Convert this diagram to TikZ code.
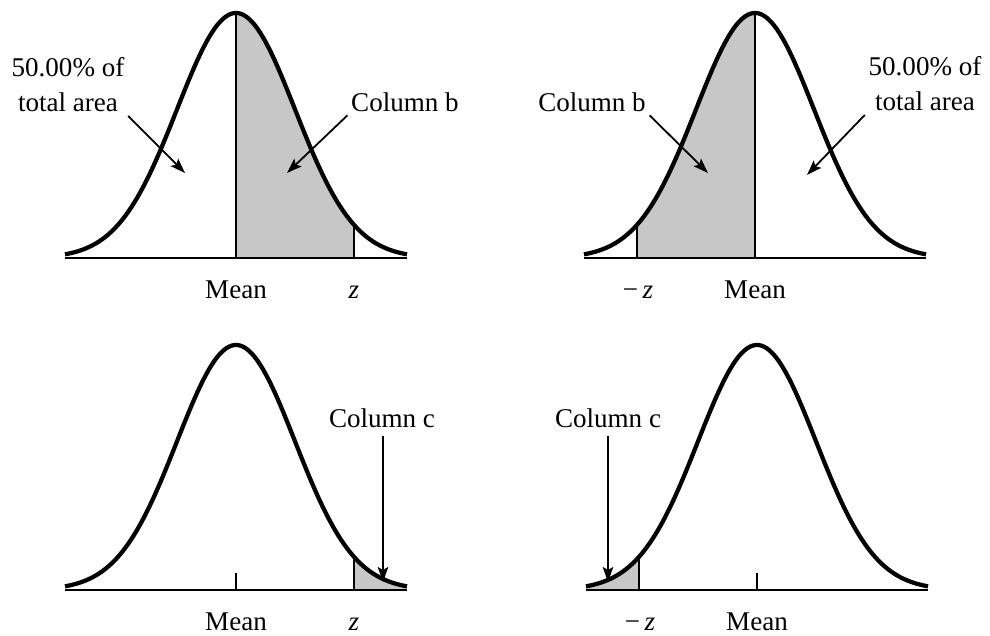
\documentclass[tikz,border=0pt]{standalone}
\usepackage{fontspec}
\setmainfont{Liberation Serif}
\usetikzlibrary{arrows.meta}

\begin{document}
\begin{tikzpicture}[
  x=0.2mm,y=0.2mm,
  declare function={bell(\t)=245*exp(-0.5*(\t/59)*(\t/59));},
  curve/.style={line width=0.85mm,line join=round},
  thin/.style={line width=0.34mm},
  shade/.style={fill=black!22},
  lab/.style={font=\fontsize{15.4pt}{19.9pt}\selectfont,inner sep=2pt,align=center},
  arrow/.style={-{Stealth[length=3mm,width=2.1mm,inset=0.6mm]},line width=0.36mm}
]
\useasboundingbox (0,0) rectangle (990,636);

% upper left: mean to z
\begin{scope}[shift={(236,378)}]
  \fill[shade] (0,0) -- plot[domain=0:118,samples=40] (\x,{bell(\x)}) -- (118,0) -- cycle;
  \draw[thin] (-171,0) -- (171,0);
  \draw[thin] (0,0) -- (0,{bell(0)});
  \draw[thin] (118,0) -- (118,{bell(118)});
  \draw[curve] plot[domain=-171:171,samples=120] (\x,{bell(\x)});
  \node[lab] (areaUL) at (-168,173) {50.00\% of\\total area};
  \node[lab] (colbUL) at (169,156) {Column b};
  \coordinate (tipUL1) at (-51,85);
  \coordinate (tipUL2) at (51,85);
  \draw[arrow] (areaUL.south east) -- (tipUL1);
  \draw[arrow] (colbUL.south west) -- (tipUL2);
  \node[lab,anchor=base] (meanUL) at (0,-41) {Mean};
  \node[lab,anchor=base] (zUL) at (118,-41) {\textit{z}};
\end{scope}

% upper right: -z to mean
\begin{scope}[shift={(755,378)}]
  \fill[shade] (-118,0) -- plot[domain=-118:0,samples=40] (\x,{bell(\x)}) -- (0,0) -- cycle;
  \draw[thin] (-171,0) -- (171,0);
  \draw[thin] (0,0) -- (0,{bell(0)});
  \draw[thin] (-118,0) -- (-118,{bell(-118)});
  \draw[curve] plot[domain=-171:171,samples=120] (\x,{bell(\x)});
  \node[lab] (colbUR) at (-163,156) {Column b};
  \node[lab] (areaUR) at (170,174) {50.00\% of\\total area};
  \coordinate (tipUR1) at (-47,85);
  \coordinate (tipUR2) at (52,83);
  \draw[arrow] (colbUR.south east) -- (tipUR1);
  \draw[arrow] (areaUR.south west) -- (tipUR2);
  \node[lab,anchor=base] (zUR) at (-117,-41) {−\,\textit{z}};
  \node[lab,anchor=base] (meanUR) at (0,-41) {Mean};
\end{scope}

% lower left: beyond z
\begin{scope}[shift={(236,46)}]
  \fill[shade] (118,0) -- plot[domain=118:171,samples=30] (\x,{bell(\x)}) -- (171,0) -- cycle;
  \draw[thin] (-171,0) -- (171,0);
  \draw[thin] (0,0) -- (0,17);
  \draw[thin] (118,0) -- (118,{bell(118)});
  \draw[curve] plot[domain=-171:171,samples=120] (\x,{bell(\x)});
  \node[lab] (colcLL) at (146,172) {Column c};
  \coordinate (tipLL) at (147,8);
  \draw[arrow] (colcLL.south) ++(1,-5) -- (tipLL);
  \node[lab,anchor=base] (meanLL) at (0,-41) {Mean};
  \node[lab,anchor=base] (zLL) at (118,-41) {\textit{z}};
\end{scope}

% lower right: beyond -z
\begin{scope}[shift={(757,46)}]
  \fill[shade] (-171,0) -- plot[domain=-171:-118,samples=30] (\x,{bell(\x)}) -- (-118,0) -- cycle;
  \draw[thin] (-171,0) -- (171,0);
  \draw[thin] (0,0) -- (0,17);
  \draw[thin] (-118,0) -- (-118,{bell(-118)});
  \draw[curve] plot[domain=-171:171,samples=120] (\x,{bell(\x)});
  \node[lab] (colcLR) at (-149,172) {Column c};
  \coordinate (tipLR) at (-149,8);
  \draw[arrow] (colcLR.south) ++(0,-5) -- (tipLR);
  \node[lab,anchor=base] (zLR) at (-117,-41) {−\,\textit{z}};
  \node[lab,anchor=base] (meanLR) at (0,-41) {Mean};
\end{scope}
\end{tikzpicture}
\end{document}
